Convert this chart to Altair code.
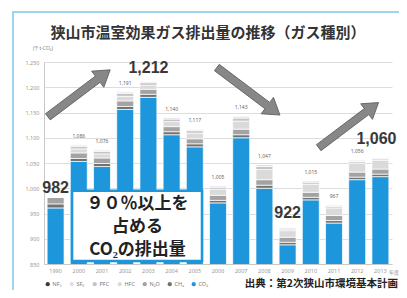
import altair as alt
import pandas as pd

# ---------------- data ----------------
years = ["1990", "2000", "2001", "2002", "2003", "2004", "2005", "2006",
         "2007", "2008", "2009", "2010", "2011", "2012", "2013"]
co2 = [961, 1053, 1043, 1156, 1180, 1106, 1082, 971, 1100, 1000, 888, 977, 931, 1017, 1023]
ch4 = [8, 6, 6, 6, 6, 6, 6, 5, 6, 6, 5, 5, 5, 5, 5]
n2o = [13, 11, 11, 11, 10, 10, 10, 10, 11, 11, 10, 10, 10, 10, 10]
hfc = [0, 8, 8, 9, 8, 10, 11, 12, 16, 20, 13, 16, 15, 18, 17]
pfc = [0, 5, 5, 6, 5, 5, 5, 4, 6, 6, 3, 4, 3, 3, 3]
sf6 = [0, 3, 3, 3, 3, 3, 3, 3, 4, 4, 3, 3, 3, 3, 2]
nf3 = [0, 0, 0, 0, 0, 0, 0, 0, 0, 0, 0, 0, 0, 0, 0]

legend_gases = ["NF₃", "SF₆", "PFC", "HFC", "N₂O", "CH₄", "CO₂"]
gas_colors = ["#3a3a3a", "#e0dcec", "#c4c4c4", "#dadada", "#a3a3a3", "#727272", "#1e96dc"]
stack_gases = ["CO₂", "CH₄", "N₂O", "HFC", "PFC", "SF₆", "NF₃"]
series = {"CO₂": co2, "CH₄": ch4, "N₂O": n2o, "HFC": hfc, "PFC": pfc, "SF₆": sf6, "NF₃": nf3}

y_ticks = [850, 900, 950, 1000, 1050, 1100, 1150, 1200, 1250]

big_label_years = ["1990", "2003", "2009", "2013"]
big_label_dy = [-9, -13, -15, -19]
big_label_dx = [0, 0, 0, -4]

title_text = "狭山市温室効果ガス排出量の推移（ガス種別）"
unit_text = "(千t-CO₂)"
xunit_text = "年度"
source_text = "出典：第2次狭山市環境基本計画"
box_lines = ["９０％以上を", "占める", "CO₂の排出量"]

# annotation positions (x in band units 0..15, y in value units)
arrow_x = [1.51, 8.81, 13.13]
arrow_v = [1188, 1192, 1125]
arrow_angle = [323, 37, 323]
arrow_len = [78, 79, 75]
box_x = [1.21, 6.81]
box_v = [856, 995]
box_text_x = 4.03
box_text_v = [969, 924, 877]

# ---------------- tables ----------------
rows = []
for i, y in enumerate(years):
    for k, g in enumerate(stack_gases):
        rows.append({"year": y, "gas": g, "value": series[g][i], "ord": k})
df = pd.DataFrame(rows)
totals = pd.DataFrame({
    "year": years,
    "total": [sum(series[g][i] for g in stack_gases) for i in range(len(years))],
})

W, H = 348, 202
FONT = "Noto Sans"
JP = "Noto Sans CJK JP"

band_scale = alt.Scale(domain=years, paddingInner=0.27, paddingOuter=0.135)
qx = alt.Scale(domain=[0, 15], nice=False, zero=False)
yscale = alt.Scale(domain=[850, 1250], nice=False, zero=False)
yaxis = alt.Axis(title=None, values=y_ticks,
                 labelExpr="format(datum.value, ',')",
                 labelFontSize=5.5, labelColor="#9a9a9a", ticks=False,
                 domainColor="#c8c8c8", gridColor="#d4d4d4", gridWidth=0.8,
                 labelPadding=5, labelFont=FONT)
xaxis = alt.Axis(title=None, labelAngle=0, labelFontSize=5.5, labelColor="#9a9a9a",
                 ticks=False, domainColor="#c8c8c8", labelPadding=4, labelFont=FONT)

one = pd.DataFrame({"t": ["x"]})

frame = alt.Chart(one).mark_rect(fillOpacity=0, stroke="#9fd4f0", strokeWidth=2).encode(
    x=alt.value(-31), x2=alt.value(420), y=alt.value(-50), y2=alt.value(320))

bars = alt.Chart(df).mark_bar(clip=True, stroke="white", strokeWidth=0.7).encode(
    x=alt.X("year:N", sort=years, scale=band_scale, axis=xaxis),
    y=alt.Y("value:Q", stack="zero", scale=yscale, axis=yaxis),
    color=alt.Color("gas:N", scale=alt.Scale(domain=legend_gases, range=gas_colors),
                    legend=alt.Legend(orient="none", legendX=1, legendY=219,
                                      direction="horizontal", title=None,
                                      symbolType="circle", symbolSize=18,
                                      labelFontSize=5.5, labelColor="#777",
                                      labelFont=FONT, columnPadding=7,
                                      labelOffset=2, symbolStrokeWidth=0)),
    order=alt.Order("ord:Q", sort="ascending"),
)

small = alt.Chart(totals).transform_filter(
    {"not": {"field": "year", "oneOf": big_label_years}}
).mark_text(fontSize=5, color="#666", dy=-9, font=FONT).encode(
    x=alt.X("year:N", sort=years, scale=band_scale, axis=None),
    y=alt.Y("total:Q", scale=yscale, axis=yaxis),
    text=alt.Text("total:Q", format=","),
)

big_layers = []
for yr, dy, dx in zip(big_label_years, big_label_dy, big_label_dx):
    big_layers.append(
        alt.Chart(totals).transform_filter(alt.datum.year == yr).mark_text(
            fontSize=16, fontWeight="bold", color="#383838", dy=dy, dx=dx,
            font="Liberation Sans").encode(
            x=alt.X("year:N", sort=years, scale=band_scale, axis=None),
            y=alt.Y("total:Q", scale=yscale, axis=yaxis),
            text=alt.Text("total:Q", format=","),
        )
    )

ARROW = "M-1,-0.1L0.6,-0.1L0.6,-0.26L1,0L0.6,0.26L0.6,0.1L-1,0.1Z"
arrows_df = pd.DataFrame({"bx": arrow_x, "v": arrow_v, "ang": arrow_angle,
                          "sz": [l * l for l in arrow_len]})
arrows = alt.Chart(arrows_df).mark_point(
    shape=ARROW, filled=True, color="#878787", stroke="#5e5e5e",
    strokeWidth=0.8, opacity=1).encode(
    x=alt.X("bx:Q", scale=qx, axis=None),
    y=alt.Y("v:Q", scale=yscale, axis=yaxis),
    angle=alt.Angle("ang:Q", scale=None),
    size=alt.Size("sz:Q", scale=None),
)

box_df = pd.DataFrame({"x1": [box_x[0]], "x2": [box_x[1]], "y1": [box_v[0]], "y2": [box_v[1]]})
box = alt.Chart(box_df).mark_rect(fill="white", stroke="#1e96dc", strokeWidth=2.5).encode(
    x=alt.X("x1:Q", scale=qx, axis=None), x2="x2:Q",
    y=alt.Y("y1:Q", scale=yscale, axis=yaxis), y2="y2:Q",
)
box_text_df = pd.DataFrame({"t": box_lines, "bx": [box_text_x] * 3, "v": box_text_v})
box_text = alt.Chart(box_text_df).mark_text(
    font=JP, fontSize=17, fontWeight="bold", color="#222", baseline="middle").encode(
    x=alt.X("bx:Q", scale=qx, axis=None),
    y=alt.Y("v:Q", scale=yscale, axis=yaxis),
    text="t:N",
)

title = alt.Chart(pd.DataFrame({"t": [title_text]})).mark_text(
    font=JP, fontSize=15, fontWeight="bold", color="#333", baseline="middle").encode(
    x=alt.value(164), y=alt.value(-29), text="t:N")
unit = alt.Chart(pd.DataFrame({"t": [unit_text]})).mark_text(
    font=FONT, fontSize=5, color="#888", baseline="middle").encode(
    x=alt.value(-1), y=alt.value(-14), text="t:N")
xunit = alt.Chart(pd.DataFrame({"t": [xunit_text]})).mark_text(
    font=JP, fontSize=5, color="#888", align="right", baseline="middle").encode(
    x=alt.value(355), y=alt.value(210), text="t:N")
source = alt.Chart(pd.DataFrame({"t": [source_text]})).mark_text(
    font=JP, fontSize=10.5, fontWeight="bold", color="#222", align="right",
    baseline="bottom").encode(
    x=alt.value(354), y=alt.value(227), text="t:N")

chart = alt.layer(
    frame, bars, small, *big_layers, box, box_text, arrows, title, unit, xunit, source
).resolve_scale(x="independent").properties(
    width=W, height=H,
    autosize=alt.AutoSizeParams(type="none"),
    padding={"left": 36, "top": 54, "right": 7, "bottom": 26},
).configure_view(stroke=None)

chart.save("out.html", embed_options={"renderer": "svg", "actions": False})
